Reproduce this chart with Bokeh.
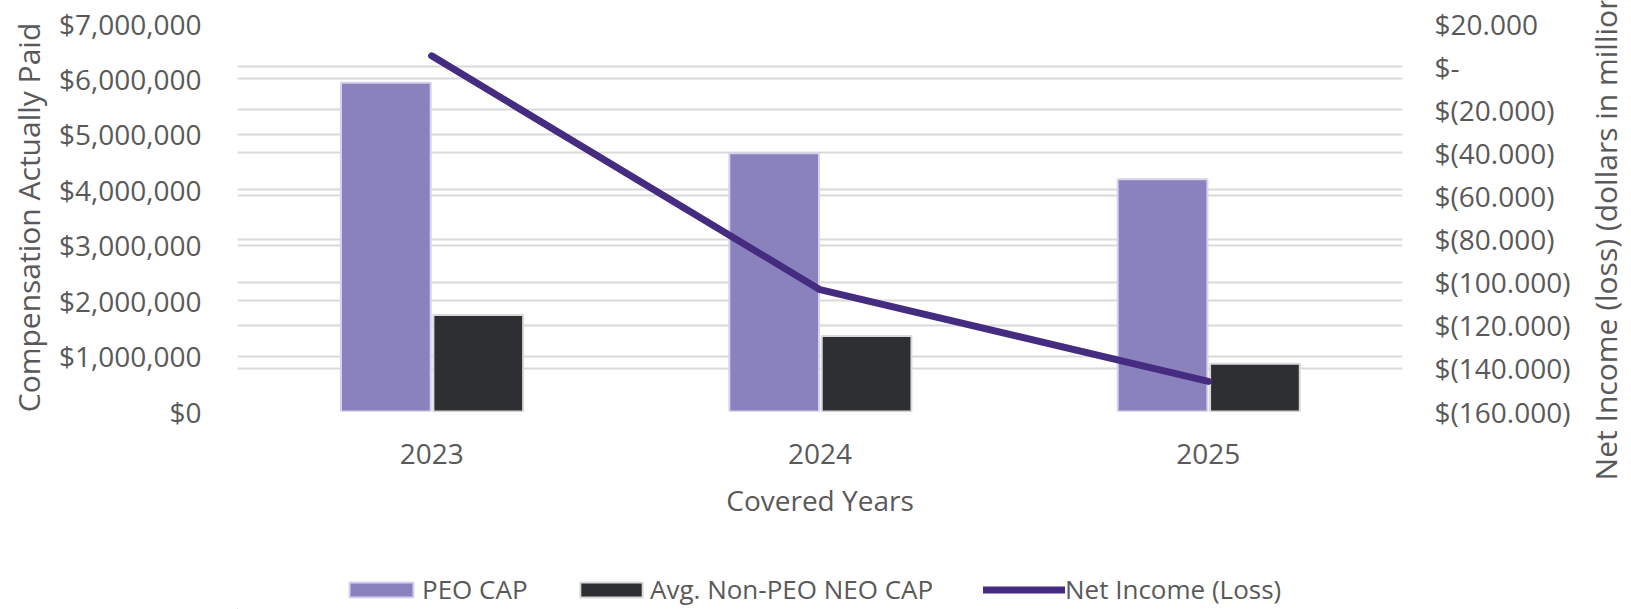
import math
from bokeh.plotting import figure
from bokeh.layouts import row, column
from bokeh.models import (ColumnDataSource, FactorRange, Range1d, LinearAxis, FixedTicker,
                          NumeralTickFormatter, Grid, Legend, LegendItem, Label)
from bokeh.transform import dodge
from bokeh.embed import file_html
from bokeh.resources import INLINE

# ---- data ----
years = ["2023", "2024", "2025"]
peo_cap = [5930000, 4660000, 4190000]
neo_cap = [1740000, 1360000, 860000]
net_income = [5.0, -103.5, -146.0]

left_ticks = [0, 1000000, 2000000, 3000000, 4000000, 5000000, 6000000, 7000000]
right_ticks = [20, 0, -20, -40, -60, -80, -100, -120, -140, -160]
right_tick_labels = ["$20.000", "$-", "$(20.000)", "$(40.000)", "$(60.000)", "$(80.000)",
                     "$(100.000)", "$(120.000)", "$(140.000)", "$(160.000)"]

left_title = "Compensation Actually Paid"
right_title = "Net Income (loss) (dollars in millions)"
x_title = "Covered Years"
series_labels = ["PEO CAP", "Avg. Non-PEO NEO CAP", "Net Income (Loss)"]

FONT = "Open Sans"
TXT = "#595959"
GRID = "#d9d9d9"
PEO_COLOR = "#8a82bd"
NEO_COLOR = "#2e2f33"
LINE_COLOR = "#452c80"
AX_SIZE = "28px"
TITLE_SIZE = "30px"

src = ColumnDataSource(dict(year=years, peo=peo_cap, neo=neo_cap, net=net_income))

# ---------------- main chart ----------------
p = figure(width=1580, height=530, x_range=FactorRange(*years), y_range=Range1d(0, 7000000),
           output_backend="svg", toolbar_location=None, tools="",
           min_border_left=237, min_border_right=178, min_border_top=23, min_border_bottom=119)
p.outline_line_color = None
p.extra_y_ranges = {"right": Range1d(-160, 20)}

p.xgrid.visible = False
p.ygrid.ticker = FixedTicker(ticks=left_ticks)
p.ygrid.grid_line_color = GRID
p.ygrid.grid_line_width = 2
p.add_layout(Grid(dimension=1, y_range_name="right", ticker=FixedTicker(ticks=right_ticks),
                  grid_line_color=GRID, grid_line_width=2))

def style_axis(ax, title_size=AX_SIZE):
    ax.axis_line_color = None
    ax.major_tick_line_color = None
    ax.minor_tick_line_color = None
    ax.major_label_text_font = FONT
    ax.major_label_text_font_size = AX_SIZE
    ax.major_label_text_color = TXT
    ax.axis_label_text_font = FONT
    ax.axis_label_text_font_size = title_size
    ax.axis_label_text_font_style = "normal"
    ax.axis_label_text_color = TXT

ya = p.yaxis[0]
ya.ticker = FixedTicker(ticks=left_ticks)
ya.formatter = NumeralTickFormatter(format="$0,0")
ya.axis_label = left_title
style_axis(ya, TITLE_SIZE)
ya.major_label_standoff = 30
ya.axis_label_standoff = 7

ra = LinearAxis(y_range_name="right", ticker=FixedTicker(ticks=right_ticks),
                major_label_overrides={t: l for t, l in zip(right_ticks, right_tick_labels)})
style_axis(ra)
ra.major_label_standoff = 26
p.add_layout(ra, "right")

xa = p.xaxis[0]
xa.axis_label = x_title
style_axis(xa)
xa.major_label_standoff = 26
xa.axis_label_standoff = 14

r1 = p.vbar(x=dodge("year", -0.118, range=p.x_range), top="peo", width=0.231, source=src,
            fill_color=PEO_COLOR, line_color="#d6d1ec", line_width=2)
r2 = p.vbar(x=dodge("year", 0.12, range=p.x_range), top="neo", width=0.231, source=src,
            fill_color=NEO_COLOR, line_color="#d9d9d9", line_width=2)
r3 = p.line(x="year", y="net", source=src, y_range_name="right", line_color=LINE_COLOR,
            line_width=7, line_cap="round", line_join="round")

# ---------------- legend strip ----------------
lg = figure(width=1580, height=79, x_range=Range1d(0, 1), y_range=Range1d(0, 1),
            output_backend="svg", toolbar_location=None, tools="",
            x_axis_location=None, y_axis_location=None, min_border=0)
lg.outline_line_color = None
lg.grid.visible = False
# legend-only renderers: their points lie outside the visible ranges
hidden = ColumnDataSource(dict(x=[-5, -6], top=[-5, -6], y=[-5, -6]))
d1 = lg.vbar(x="x", top="top", width=0.1, source=hidden, fill_color=PEO_COLOR,
             line_color="#d6d1ec", line_width=2)
d2 = lg.vbar(x="x", top="top", width=0.1, source=hidden, fill_color=NEO_COLOR,
             line_color="#d9d9d9", line_width=2)
d3 = lg.line(x="x", y="y", source=hidden, line_color=LINE_COLOR, line_width=7,
             line_cap="round")

def mk_legend(label, rend, loc, gw, gh, standoff):
    leg = Legend(items=[LegendItem(label=label, renderers=[rend], index=0)], location=loc,
                 orientation="horizontal", padding=0, margin=0, spacing=0,
                 glyph_width=gw, glyph_height=gh, label_standoff=standoff,
                 label_text_font=FONT, label_text_font_size="26px", label_text_color=TXT,
                 background_fill_alpha=0, border_line_color=None)
    lg.add_layout(leg)

# legend strip frame is aligned with the chart frame (left edge at 237 px)
mk_legend(series_labels[0], d1, (104, 2), 80, 19, 1)
mk_legend(series_labels[1], d2, (335, 2), 78, 19, 0)
mk_legend(series_labels[2], d3, (746, 2), 82, 19, 0)

# ---------------- right title strip ----------------
tf = figure(width=51, height=609, x_range=Range1d(0, 51), y_range=Range1d(0, 467),
            output_backend="svg", toolbar_location=None, tools="",
            x_axis_location=None, y_axis_location=None, min_border=0)
tf.outline_line_color = None
tf.grid.visible = False
tf.add_layout(Label(x=25, y=99, text=right_title, angle=math.pi / 2,
                    text_font=FONT, text_font_size=TITLE_SIZE, text_color=TXT,
                    text_align="left", text_baseline="alphabetic"))

layout = row(column(p, lg, spacing=0), tf, spacing=0)
open("out.html", "w").write(file_html(layout, INLINE))
